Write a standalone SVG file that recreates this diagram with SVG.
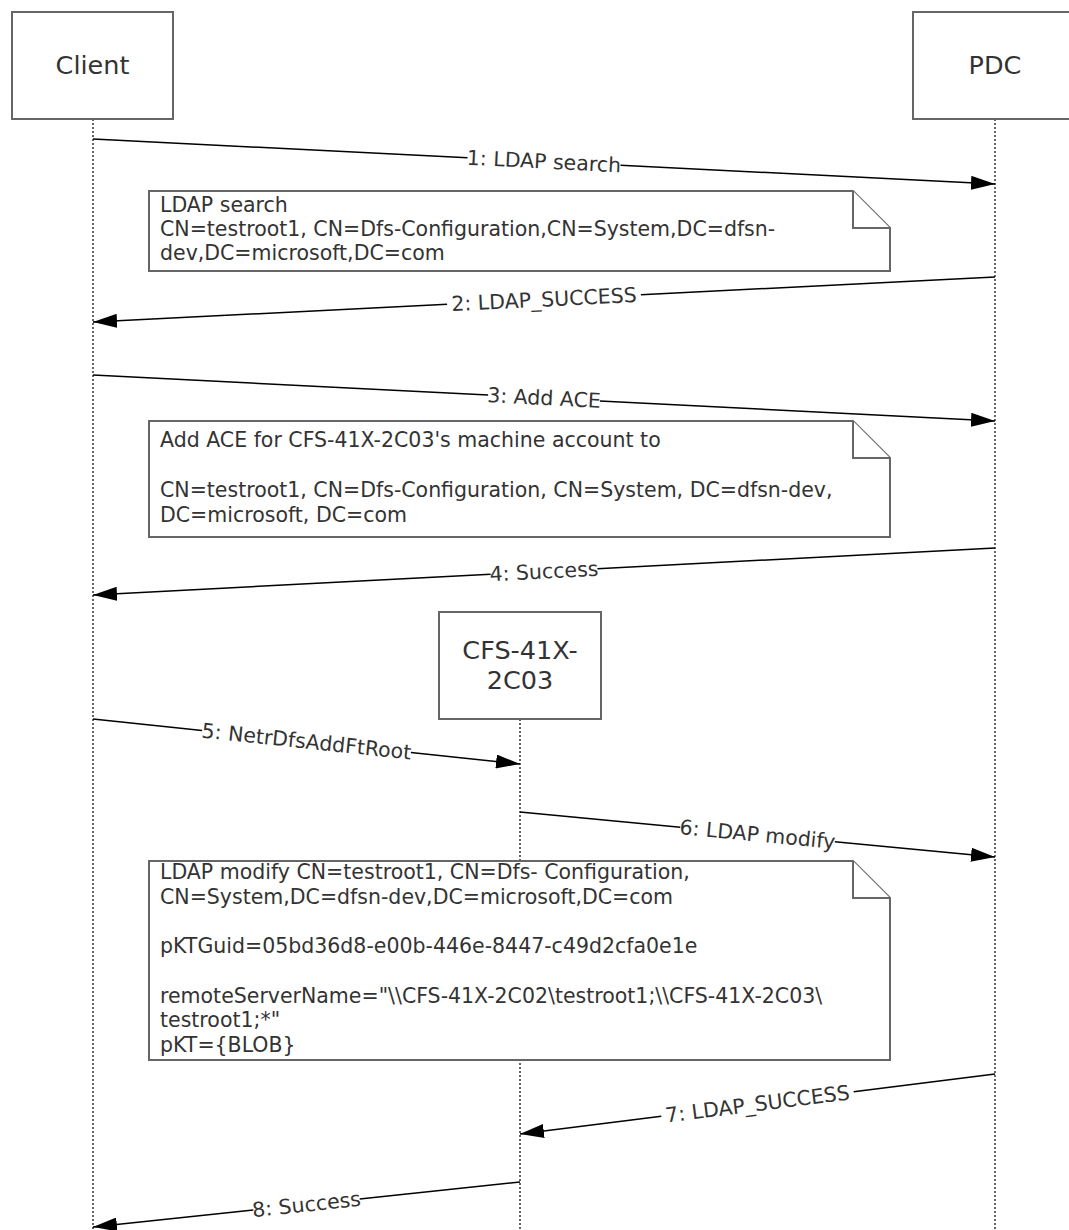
<svg xmlns="http://www.w3.org/2000/svg" width="1069" height="1230" viewBox="0 0 1069 1230">
<defs>
<marker id="arrow" markerUnits="userSpaceOnUse" markerWidth="24" markerHeight="14" viewBox="0 0 24 14" refX="24" refY="7" orient="auto">
<path d="M0,0 L24,7 L0,14 Z" fill="#000"/>
</marker>
<style>
.box{fill:#fff;stroke:#666;stroke-width:2}
.life{fill:none;stroke:#666;stroke-width:2;stroke-dasharray:2 2}
.note{fill:#fff;stroke:#666;stroke-width:2;stroke-linejoin:miter}
.msg{fill:none;stroke:#000;stroke-width:1.5}
.hd{font-family:"DejaVu Sans",Verdana,sans-serif;font-size:25.5px;fill:#333;text-anchor:middle}
.nt{font-family:"DejaVu Sans",Verdana,sans-serif;font-size:20.5px;fill:#333}
.lb{font-family:"DejaVu Sans",Verdana,sans-serif;font-size:20.5px;fill:#333;text-anchor:middle}
</style>
</defs>
<rect width="1069" height="1230" fill="#fff"/>
<g id="lifelines">
<line class="life" x1="93" y1="119" x2="93" y2="1230"/>
<line class="life" x1="995" y1="119" x2="995" y2="1230"/>
<line class="life" x1="520" y1="719" x2="520" y2="1230"/>
</g>
<g id="client">
<rect class="box" x="12" y="12" width="161" height="107"/>
<text class="hd" x="92.5" y="74">Client</text>
</g>
<g id="pdc">
<rect class="box" x="913" y="12" width="164" height="107"/>
<text class="hd" x="995" y="74">PDC</text>
</g>
<g id="cfs">
<rect class="box" x="439" y="612" width="162" height="107"/>
<text class="hd" x="520" y="659">CFS-41X-</text>
<text class="hd" x="520" y="689">2C03</text>
</g>
<g id="note1">
<path class="note" d="M149,191 H853 L890,228 V271 H149 Z"/>
<path class="note" d="M853,191 V228 H890" fill="none"/>
<text class="nt" x="160" y="212">LDAP search</text>
<text class="nt" x="160" y="236">CN=testroot1, CN=Dfs-Configuration,CN=System,DC=dfsn-</text>
<text class="nt" x="160" y="260">dev,DC=microsoft,DC=com</text>
</g>
<g id="note2">
<path class="note" d="M149,421 H853 L890,458 V537 H149 Z"/>
<path class="note" d="M853,421 V458 H890" fill="none"/>
<text class="nt" x="160" y="447">Add ACE for CFS-41X-2C03's machine account to</text>
<text class="nt" x="160" y="497">CN=testroot1, CN=Dfs-Configuration, CN=System, DC=dfsn-dev,</text>
<text class="nt" x="160" y="522">DC=microsoft, DC=com</text>
</g>
<g id="note3">
<path class="note" d="M149,861 H853 L890,898 V1060 H149 Z"/>
<path class="note" d="M853,861 V898 H890" fill="none"/>
<text class="nt" x="160" y="879">LDAP modify CN=testroot1, CN=Dfs- Configuration,</text>
<text class="nt" x="160" y="904">CN=System,DC=dfsn-dev,DC=microsoft,DC=com</text>
<text class="nt" x="160" y="953">pKTGuid=05bd36d8-e00b-446e-8447-c49d2cfa0e1e</text>
<text class="nt" x="160" y="1003">remoteServerName="\\CFS-41X-2C02\testroot1;\\CFS-41X-2C03\</text>
<text class="nt" x="160" y="1027">testroot1;*"</text>
<text class="nt" x="160" y="1052">pKT={BLOB}</text>
</g>
<g id="connectors">
<polyline class="msg" points="93,139 467.5,157.7"/>
<polyline class="msg" points="620.5,165.3 995,184" marker-end="url(#arrow)"/>
<text class="lb" transform="translate(544,161.5) rotate(2.856)" x="0" y="7">1: LDAP search</text>

<polyline class="msg" points="995,277 640.9,294.7"/>
<polyline class="msg" points="447.1,304.3 93,322" marker-end="url(#arrow)"/>
<text class="lb" transform="translate(544,299.5) rotate(-2.856)" x="0" y="7">2: LDAP_SUCCESS</text>

<polyline class="msg" points="93,375 488.1,395.1"/>
<polyline class="msg" points="599.9,400.9 995,421" marker-end="url(#arrow)"/>
<text class="lb" transform="translate(544,398) rotate(2.919)" x="0" y="7">3: Add ACE</text>

<polyline class="msg" points="995,548 597.4,568.7"/>
<polyline class="msg" points="490.6,574.3 93,595" marker-end="url(#arrow)"/>
<text class="lb" transform="translate(544,571.5) rotate(-2.983)" x="0" y="7">4: Success</text>

<polyline class="msg" points="93,719 202.1,730.5"/>
<polyline class="msg" points="410.9,752.5 520,764" marker-end="url(#arrow)"/>
<text class="lb" transform="translate(306.5,741.5) rotate(6.016)" x="0" y="7">5: NetrDfsAddFtRoot</text>

<polyline class="msg" points="520,812 680.2,827.2"/>
<polyline class="msg" points="834.8,841.8 995,857" marker-end="url(#arrow)"/>
<text class="lb" transform="translate(757.5,834.5) rotate(5.412)" x="0" y="7">6: LDAP modify</text>

<polyline class="msg" points="995,1074 853.7,1091.8"/>
<polyline class="msg" points="661.3,1116.2 520,1134" marker-end="url(#arrow)"/>
<text class="lb" transform="translate(757.5,1104) rotate(-7.199)" x="0" y="7">7: LDAP_SUCCESS</text>

<polyline class="msg" points="520,1182 359.7,1198.9"/>
<polyline class="msg" points="253.3,1210.1 93,1227" marker-end="url(#arrow)"/>
<text class="lb" transform="translate(306.5,1204.5) rotate(-6.016)" x="0" y="7">8: Success</text>
</g>
</svg>
